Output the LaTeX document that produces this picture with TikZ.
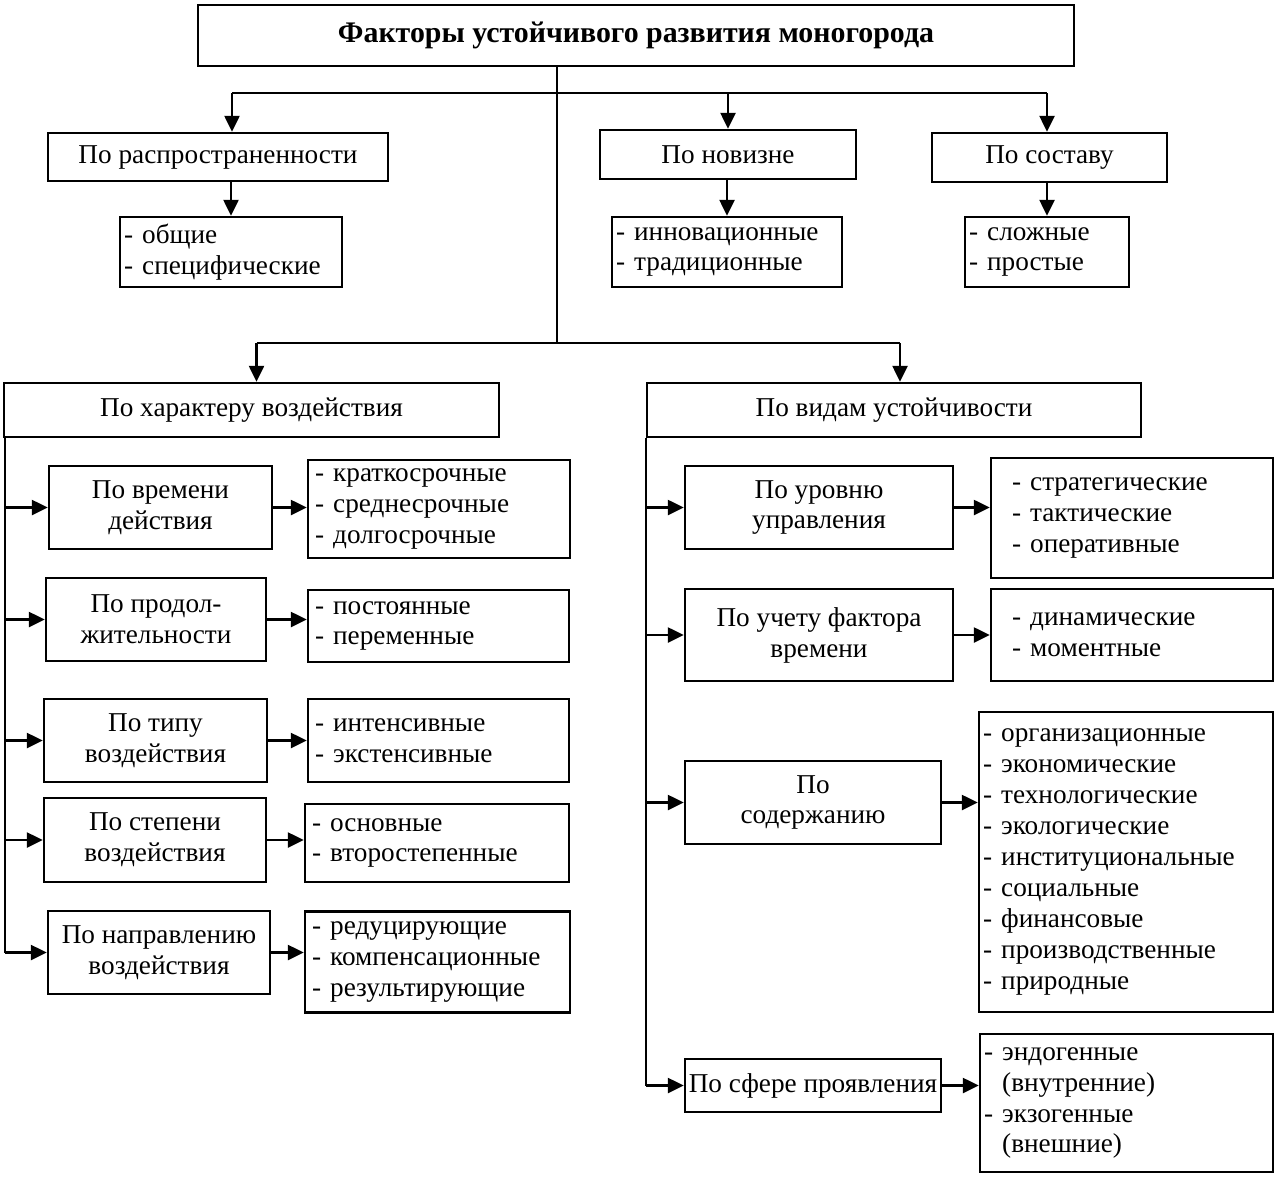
\documentclass[tikz,border=0pt]{standalone}
\usepackage{fontspec}
\setmainfont{Liberation Serif}
\usetikzlibrary{arrows.meta}
\tikzset{
  box/.style={draw, line width=1.4pt, align=center, inner sep=0pt},
  lst/.style={draw, line width=1.4pt, align=left, inner ysep=0pt},
  con/.style={line width=1.4pt},
  arr/.style={line width=1.4pt, -{Triangle[length=0.32cm,width=0.3cm]}}
}
\begin{document}
\begin{tikzpicture}[x=0.02cm, y=-0.02cm, font=\fontsize{15.5}{17.6}\selectfont]
\useasboundingbox (0,0) rectangle (1280,1181);
% top level
\node[box, minimum width=17.52cm, minimum height=1.22cm, font=\fontsize{17}{20}\selectfont\bfseries] (title) at (636,35.5) {Факторы устойчивого развития моногорода};
\coordinate (fork1) at (557,93);
\coordinate (fork2) at (557,343);
\node[box, minimum width=6.8cm, minimum height=0.96cm] (rasp) at (218,157) {По распространенности};
\node[box, minimum width=5.12cm, minimum height=0.98cm] (nov) at (728,154.5) {По новизне};
\node[box, minimum width=4.7cm, minimum height=0.98cm] (sost) at (1049.5,157.5) {По составу};
\node[lst, inner xsep=0.08cm, text width=4.28cm, minimum height=1.4cm] (obsh) at (231,252) {- общие\\- специфические};
\node[lst, inner xsep=0.08cm, text width=4.44cm, minimum height=1.4cm] (innov) at (727,252) {- инновационные\\- традиционные};
\node[lst, inner xsep=0.08cm, text width=3.12cm, minimum height=1.4cm] (slozh) at (1047,252) {- сложные\\- простые};
\draw[con] (title.south -| fork1) -- (fork2);
\draw[con] ([xshift=0.28cm]rasp.north |- fork1) -- ([xshift=-0.05cm]sost.north |- fork1);
\draw[arr] ([xshift=0.28cm]rasp.north |- fork1) -- ([xshift=0.28cm]rasp.north);
\draw[arr] (nov.north |- fork1) -- (nov.north);
\draw[arr] ([xshift=-0.05cm]sost.north |- fork1) -- ([xshift=-0.05cm]sost.north);
\draw[arr] (rasp.south -| obsh.north) -- (obsh.north);
\draw[arr] (nov.south -| innov.north) -- (innov.north);
\draw[arr] (sost.south -| slozh.north) -- (slozh.north);
% second level
\node[box, minimum width=9.9cm, minimum height=1.08cm] (harak) at (251.5,410) {По характеру воздействия};
\node[box, minimum width=9.88cm, minimum height=1.08cm] (vidy) at (894,410) {По видам устойчивости};
\draw[con] ([xshift=0.1cm]harak.north |- fork2) -- ([xshift=0.12cm]vidy.north |- fork2);
\draw[arr] ([xshift=0.1cm]harak.north |- fork2) -- ([xshift=0.1cm]harak.north);
\draw[arr] ([xshift=0.12cm]vidy.north |- fork2) -- ([xshift=0.12cm]vidy.north);
% left branch
\coordinate (lsp) at ([xshift=0.04cm]harak.south west);
\node[box, minimum width=4.46cm, minimum height=1.66cm] (vrem) at (160.5,507.5) {По времени\\действия};
\node[box, minimum width=4.4cm, minimum height=1.66cm] (prod) at (156,619.5) {По продол-\\жительности};
\node[box, minimum width=4.46cm, minimum height=1.66cm] (tip) at (155.5,740.5) {По типу\\воздействия};
\node[box, minimum width=4.44cm, minimum height=1.68cm] (stepen) at (155,840) {По степени\\воздействия};
\node[box, minimum width=4.44cm, minimum height=1.66cm] (napr) at (159,952.5) {По направлению\\воздействия};
\node[lst, inner xsep=0.14cm, text width=4.96cm, minimum height=1.96cm] (kratk) at (439,509) {- краткосрочные\\- среднесрочные\\- долгосрочные};
\node[lst, inner xsep=0.14cm, text width=4.94cm, minimum height=1.44cm] (postoy) at (438.5,626) {- постоянные\\- переменные};
\node[lst, inner xsep=0.14cm, text width=4.94cm, minimum height=1.66cm] (intens) at (438.5,740.5) {- интенсивные\\- экстенсивные};
\node[lst, inner xsep=0.14cm, text width=5.0cm, minimum height=1.56cm] (osnov) at (437,843) {- основные\\- второстепенные};
\node[lst, inner xsep=0.14cm, text width=5.02cm, minimum height=2.02cm] (redu) at (437.5,962) {- редуцирующие\\- компенсационные\\- результирующие};
\draw[con] (lsp) -- (lsp |- napr.west);
\foreach \s/\t in {vrem/kratk, prod/postoy, tip/intens, stepen/osnov, napr/redu}{
  \draw[arr] (lsp |- \s.west) -- (\s.west);
  \draw[arr] (\s.east) -- (\s.east -| \t.west);
}
% right branch
\coordinate (rsp) at (vidy.south west);
\node[box, minimum width=5.36cm, minimum height=1.66cm] (urov) at (819,507.5) {По уровню\\управления};
\node[box, minimum width=5.36cm, minimum height=1.84cm] (uchet) at (819,635) {По учету фактора\\времени};
\node[box, minimum width=5.12cm, minimum height=1.66cm] (soder) at (813,802.5) {По\\содержанию};
\node[box, minimum width=5.12cm, minimum height=1.06cm] (sfera) at (813,1085.5) {По сфере проявления};
\node[lst, inner xsep=0.42cm, text width=4.8cm, minimum height=2.4cm] (strat) at (1132,518) {- стратегические\\- тактические\\- оперативные};
\node[lst, inner xsep=0.42cm, text width=4.8cm, minimum height=1.84cm] (dinam) at (1132,635) {- динамические\\- моментные};
\node[lst, inner xsep=0.08cm, text width=5.72cm, minimum height=6.0cm] (organ) at (1126,862) {- организационные\\- экономические\\- технологические\\- экологические\\- институциональные\\- социальные\\- финансовые\\- производственные\\- природные};
\node[lst, inner xsep=0.08cm, text width=5.7cm, minimum height=2.76cm] (endo) at (1126.5,1103) {- эндогенные\\\phantom{- }(внутренние)\\- экзогенные\\\phantom{- }(внешние)};
\draw[con] (rsp) -- (rsp |- sfera.west);
\foreach \s/\t in {urov/strat, uchet/dinam, soder/organ, sfera/endo}{
  \draw[arr] (rsp |- \s.west) -- (\s.west);
  \draw[arr] (\s.east) -- (\s.east -| \t.west);
}
\end{tikzpicture}
\end{document}
